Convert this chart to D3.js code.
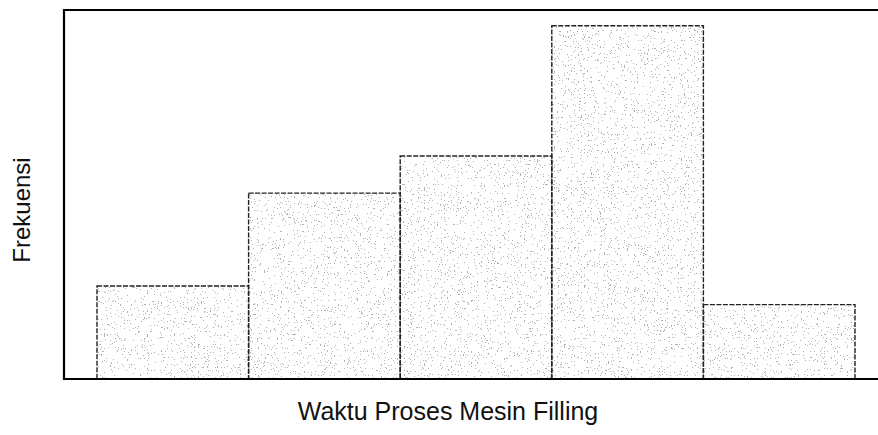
<!DOCTYPE html>
<html>
<head>
<meta charset="utf-8">
<script src="https://cdn.jsdelivr.net/npm/d3@7"></script>
<style>
	body { margin: 0; background: #fff; }
	svg text { font-family: "Liberation Sans", Arial, sans-serif; fill: #111; }
</style>
</head>
<body>
<div id="chart"></div>
<script>
var width = 878,
	height = 435;

// histogram classes (no tick labels in the original) and frequencies
var classes = ['1', '2', '3', '4', '5'];
var frequencies = [5, 10, 12, 19, 4];
var xLabel = 'Waktu Proses Mesin Filling',
	yLabel = 'Frekuensi';

var frame = {left: 64, top: 10, bottom: 379};

var svg = d3.select('#chart').append('svg')
	.attr('width', width)
	.attr('height', height);

// stippled fill made from noise
var defs = svg.append('defs');
var f = defs.append('filter')
	.attr('id', 'stipple')
	.attr('x', 0).attr('y', 0).attr('width', 1).attr('height', 1);
f.append('feTurbulence')
	.attr('type', 'fractalNoise')
	.attr('baseFrequency', 0.7)
	.attr('numOctaves', 2)
	.attr('seed', 7)
	.attr('result', 'noise');
f.append('feColorMatrix')
	.attr('in', 'noise')
	.attr('type', 'matrix')
	.attr('values', '0 0 0 0 0.45  0 0 0 0 0.45  0 0 0 0 0.45  1.6 0 0 0 -0.3')
	.attr('result', 'a');
f.append('feComponentTransfer')
	.attr('in', 'a')
	.attr('result', 'dots')
	.append('feFuncA')
	.attr('type', 'discrete')
	.attr('tableValues', '0 0 0 0 0 0 0 0 1 1');
f.append('feComposite')
	.attr('in', 'dots')
	.attr('in2', 'SourceGraphic')
	.attr('operator', 'in');

var x = d3.scaleBand()
	.domain(classes)
	.range([97, 855])
	.paddingInner(0)
	.paddingOuter(0);

var y = d3.scaleLinear()
	.domain([0, 19.85])
	.range([frame.bottom, frame.top]);

var bars = svg.append('g').classed('bars', true);

bars.selectAll('rect.fill')
	.data(frequencies)
	.enter()
	.append('rect')
	.classed('fill', true)
	.attr('x', (d, i) => x(classes[i]))
	.attr('y', d => y(d))
	.attr('width', x.bandwidth())
	.attr('height', d => y(0) - y(d))
	.attr('fill', '#000')
	.attr('filter', 'url(#stipple)');

bars.selectAll('rect.edge')
	.data(frequencies)
	.enter()
	.append('rect')
	.classed('edge', true)
	.attr('x', (d, i) => x(classes[i]))
	.attr('y', d => y(d))
	.attr('width', x.bandwidth())
	.attr('height', d => y(0) - y(d))
	.attr('fill', 'none')
	.attr('stroke', '#222')
	.attr('stroke-width', 1.4)
	.attr('stroke-dasharray', '5,1.5');

// frame: left, top and bottom lines (right side runs off the picture)
svg.append('path')
	.attr('d', 'M' + width + ',' + frame.top + 'H' + frame.left + 'V' + frame.bottom + 'H' + width)
	.attr('fill', 'none')
	.attr('stroke', '#000')
	.attr('stroke-width', 2.2);

svg.append('text')
	.attr('x', 448)
	.attr('y', 420)
	.attr('text-anchor', 'middle')
	.style('font-size', '25px')
	.text(xLabel);

svg.append('text')
	.attr('transform', 'translate(30,210) rotate(-90)')
	.attr('text-anchor', 'middle')
	.style('font-size', '24px')
	.text(yLabel);
</script>
</body>
</html>
